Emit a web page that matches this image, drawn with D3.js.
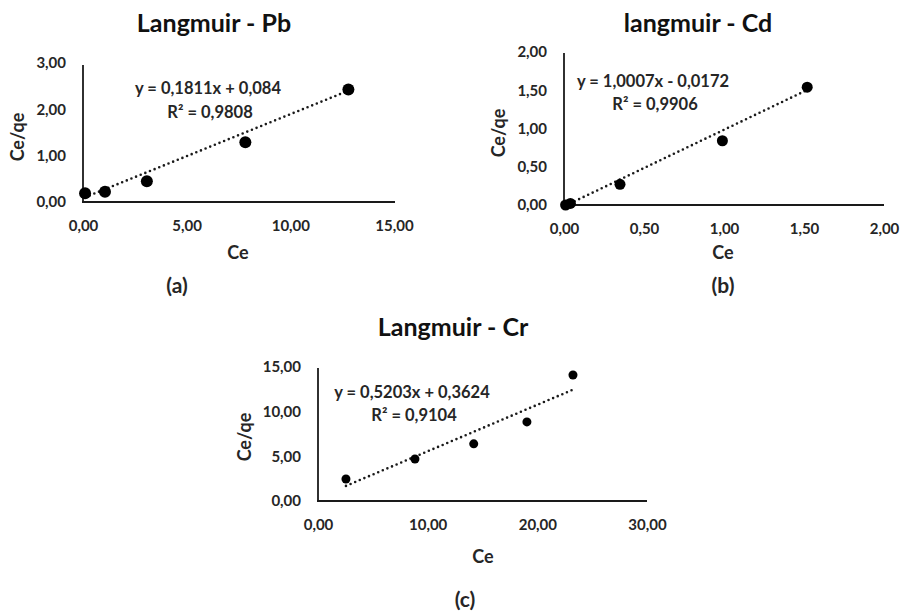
<!DOCTYPE html>
<html>
<head>
<meta charset="utf-8">
<script src="https://cdn.jsdelivr.net/npm/d3@7"></script>
<style>
  html, body { margin: 0; padding: 0; background: #fff; }
  svg text { font-family: Lato, "Open Sans", "Liberation Sans", sans-serif; font-weight: 700; }
</style>
</head>
<body>
<svg id="chart" width="900" height="612"></svg>
<script>
// Langmuir linearisation data: Ce versus Ce/qe for each metal
const pbCe   = [0.10, 1.06, 3.08, 7.83, 12.80];
const pbCeQe = [0.19, 0.22, 0.45, 1.29, 2.43];
const pbFit  = { slope: 0.1811, intercept: 0.084 };
const pbEq   = "y = 0,1811x + 0,084";
const pbR2   = "R² = 0,9808";

const cdCe   = [0.01, 0.04, 0.35, 0.99, 1.52];
const cdCeQe = [0.00, 0.02, 0.27, 0.84, 1.54];
const cdFit  = { slope: 1.0007, intercept: -0.0172 };
const cdEq   = "y = 1,0007x - 0,0172";
const cdR2   = "R² = 0,9906";

const crCe   = [2.55, 8.84, 14.2, 19.05, 23.25];
const crCeQe = [2.46, 4.70, 6.40, 8.85, 14.10];
const crFit  = { slope: 0.5203, intercept: 0.3624 };
const crEq   = "y = 0,5203x + 0,3624";
const crR2   = "R² = 0,9104";

const pbXTicks = [0, 5, 10, 15];
const pbYTicks = [0, 1, 2, 3];
const cdXTicks = [0, 0.5, 1, 1.5, 2];
const cdYTicks = [0, 0.5, 1, 1.5, 2];
const crXTicks = [0, 10, 20, 30];
const crYTicks = [0, 5, 10, 15];

const titles = ["Langmuir - Pb", "langmuir - Cd", "Langmuir - Cr"];
const captions = ["(a)", "(b)", "(c)"];

const locale = d3.formatLocale({ decimal: ",", thousands: ".", grouping: [3], currency: ["", ""] });
const fmt = locale.format(".2f");

const svg = d3.select("#chart");

const panels = [
  { x: pbCe, y: pbCeQe, fit: pbFit, eq: pbEq, r2: pbR2, xt: pbXTicks, yt: pbYTicks,
    title: titles[0], cap: captions[0],
    xr: [83, 394], yr: [202, 63], yTop: 65, xEnd: 395, r: 6,
    titlePos: [214, 32], eqPos: [208, 94], r2Pos: [210, 118],
    xLabPos: [238, 259], capPos: [177, 293], yLabPos: [18, 137] },
  { x: cdCe, y: cdCeQe, fit: cdFit, eq: cdEq, r2: cdR2, xt: cdXTicks, yt: cdYTicks,
    title: titles[1], cap: captions[1],
    xr: [564, 884], yr: [205, 52], yTop: 53, xEnd: 884, r: 5.5,
    titlePos: [698, 32], eqPos: [653, 87], r2Pos: [655, 110],
    xLabPos: [723, 259], capPos: [723, 293], yLabPos: [499, 133] },
  { x: crCe, y: crCeQe, fit: crFit, eq: crEq, r2: crR2, xt: crXTicks, yt: crYTicks,
    title: titles[2], cap: captions[2],
    xr: [318, 647], yr: [501, 367], yTop: 368, xEnd: 647, r: 4.5,
    titlePos: [453, 336], eqPos: [412, 398], r2Pos: [414, 421],
    xLabPos: [483, 563], capPos: [465, 607], yLabPos: [245, 437] }
];

panels.forEach(p => {
  const xDom = [p.xt[0], p.xt[p.xt.length - 1]];
  const yDom = [p.yt[0], p.yt[p.yt.length - 1]];
  const x = d3.scaleLinear().domain(xDom).range(p.xr);
  const y = d3.scaleLinear().domain(yDom).range(p.yr);
  const g = svg.append("g");

  // axes lines
  g.append("line").attr("x1", p.xr[0]).attr("x2", p.xr[0])
    .attr("y1", p.yTop).attr("y2", p.yr[0] + 1)
    .attr("stroke", "#1a1a1a").attr("stroke-width", 1.8);
  g.append("line").attr("x1", p.xr[0] - 1).attr("x2", p.xEnd)
    .attr("y1", p.yr[0]).attr("y2", p.yr[0])
    .attr("stroke", "#1a1a1a").attr("stroke-width", 1.8);

  // tick labels via d3 axes (no tick marks, no domain path)
  const xAxis = d3.axisBottom(x).tickValues(p.xt).tickFormat(fmt).tickSize(0).tickPadding(18);
  const yAxis = d3.axisLeft(y).tickValues(p.yt).tickFormat(fmt).tickSize(0).tickPadding(17);
  const gx = g.append("g").attr("transform", `translate(0,${p.yr[0]})`).call(xAxis);
  const gy = g.append("g").attr("transform", `translate(${p.xr[0]},0)`).call(yAxis);
  [gx, gy].forEach(a => {
    a.select(".domain").remove();
    a.selectAll("text").attr("font-size", 15).attr("fill", "#262626")
      .attr("font-family", "Lato, sans-serif").attr("font-weight", 700);
  });

  // dotted linear trendline across the data range
  const x0 = d3.min(p.x), x1 = d3.max(p.x);
  g.append("line")
    .attr("x1", x(x0)).attr("y1", y(p.fit.slope * x0 + p.fit.intercept))
    .attr("x2", x(x1)).attr("y2", y(p.fit.slope * x1 + p.fit.intercept))
    .attr("stroke", "#1a1a1a").attr("stroke-width", 2.6)
    .attr("stroke-linecap", "round").attr("stroke-dasharray", "0,5");

  // data points
  g.selectAll("circle").data(p.x.map((v, i) => [v, p.y[i]])).join("circle")
    .attr("cx", d => x(d[0])).attr("cy", d => y(d[1])).attr("r", p.r)
    .attr("fill", "#000");

  // equation and R²
  g.append("text").attr("x", p.eqPos[0]).attr("y", p.eqPos[1])
    .attr("text-anchor", "middle").attr("font-size", 16.5).attr("fill", "#262626").text(p.eq);
  g.append("text").attr("x", p.r2Pos[0]).attr("y", p.r2Pos[1])
    .attr("text-anchor", "middle").attr("font-size", 16.5).attr("fill", "#262626").text(p.r2);

  // title
  g.append("text").attr("x", p.titlePos[0]).attr("y", p.titlePos[1])
    .attr("text-anchor", "middle").attr("font-size", 25).attr("fill", "#111").text(p.title);

  // axis titles
  g.append("text").attr("x", p.xLabPos[0]).attr("y", p.xLabPos[1])
    .attr("text-anchor", "middle").attr("font-size", 18).attr("fill", "#262626").text("Ce");
  g.append("text")
    .attr("transform", `translate(${p.yLabPos[0] + 6},${p.yLabPos[1]}) rotate(-90)`)
    .attr("text-anchor", "middle").attr("font-size", 18).attr("fill", "#262626").text("Ce/qe");

  // panel caption
  g.append("text").attr("x", p.capPos[0]).attr("y", p.capPos[1])
    .attr("text-anchor", "middle").attr("font-size", 21).attr("fill", "#262626").text(p.cap);
});
</script>
</body>
</html>
